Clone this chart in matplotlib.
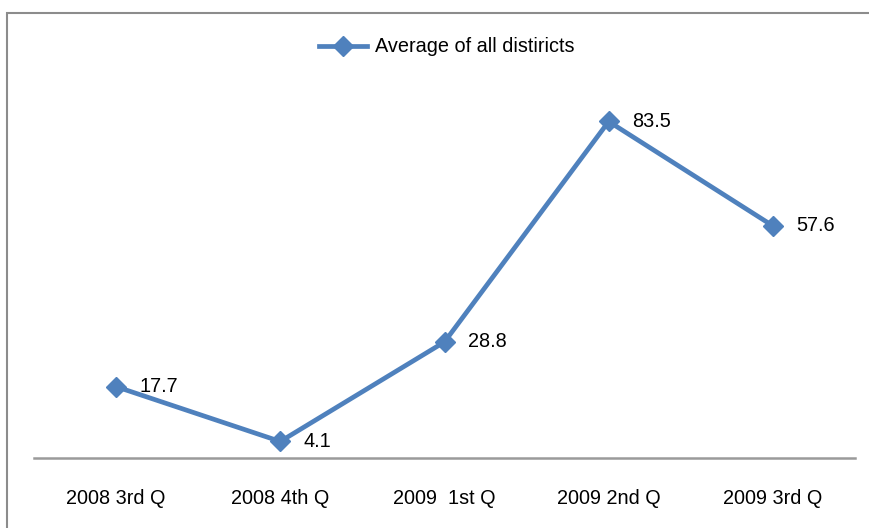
import matplotlib.pyplot as plt
from matplotlib.patches import Rectangle
from matplotlib import font_manager

# quarterly averages
quarters = ["2008 3rd Q", "2008 4th Q", "2009  1st Q", "2009 2nd Q", "2009 3rd Q"]
averages = [17.7, 4.1, 28.8, 83.5, 57.6]
series_name = "Average of all distiricts"

LINE_COLOR = "#4F81BD"

names = {f.name for f in font_manager.fontManager.ttflist}
family = "Liberation Sans Narrow" if "Liberation Sans Narrow" in names else "Liberation Sans"
plt.rcParams["font.family"] = [family, "DejaVu Sans"]
FS = 16.5 if family == "Liberation Sans Narrow" else 14.3

fig = plt.figure(figsize=(8.7, 5.28), dpi=100)
ax = fig.add_axes([34 / 870, 70 / 528, 821 / 870, 403 / 528])

# outer chart border (runs off the right and bottom edges)
fig.patches.append(Rectangle((7 / 870, -0.05), 1.0, (528 - 13) / 528 + 0.05,
                             transform=fig.transFigure, fill=False,
                             edgecolor="#8c8c8c", linewidth=1.5))

x = list(range(len(quarters)))
ax.plot(x, averages, color=LINE_COLOR, linewidth=3.4, marker="D", markersize=10.5,
        label=series_name, zorder=3, clip_on=False)

for xi, v in zip(x, averages):
    ax.annotate(f"{v:.1f}", (xi, v), xytext=(17, 0), textcoords="offset points",
                ha="left", va="center", fontsize=FS, color="black")

ax.set_xlim(-0.5, len(quarters) - 0.5)
ax.set_ylim(0, 100)
ax.set_xticks(x)
ax.set_xticklabels(quarters, fontsize=FS)
ax.tick_params(axis="x", length=0, pad=22)
ax.set_yticks([])
for side in ("top", "right", "left"):
    ax.spines[side].set_visible(False)
ax.spines["bottom"].set_color("#9a9a9a")
ax.spines["bottom"].set_linewidth(1.8)

leg = ax.legend(loc="center", bbox_to_anchor=(447 / 870, (528 - 47) / 528),
                bbox_transform=fig.transFigure, frameon=False, fontsize=FS,
                handlelength=2.4, handletextpad=0.4, borderpad=0)

fig.savefig("out.png", dpi=100)
